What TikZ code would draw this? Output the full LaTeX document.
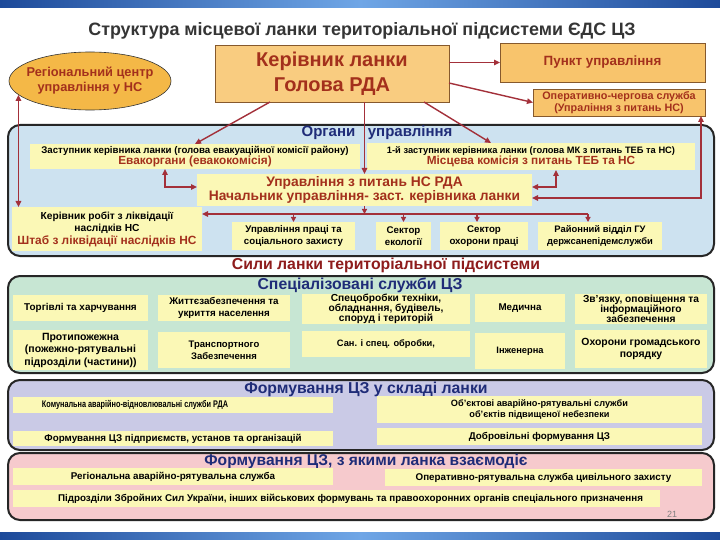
\documentclass[tikz,border=0pt]{standalone}
\usepackage{fontspec}
\usepackage{graphicx}
\setmainfont{Liberation Sans}
\usetikzlibrary{arrows.meta,shapes.geometric,calc}
\newcommand\fsz[2]{\fontsize{#1}{#2}\selectfont}
\definecolor{barblue}{HTML}{1D4A9A}
\definecolor{barlight}{HTML}{6FA6E6}
\definecolor{panelblue}{HTML}{CDE2F0}
\definecolor{panelgreen}{HTML}{C7E6D3}
\definecolor{panelviolet}{HTML}{CACAE6}
\definecolor{panelpink}{HTML}{F6CACD}
\definecolor{paleyellow}{HTML}{FBF8B6}
\definecolor{boxorange}{HTML}{F8C46C}
\definecolor{kerorange}{HTML}{F9CC80}
\definecolor{ellorange}{HTML}{F4B847}
\definecolor{darkred}{HTML}{A3301C}
\definecolor{arrowred}{HTML}{A3303A}
\definecolor{titlegray}{HTML}{353535}
\definecolor{navy}{HTML}{1F2C78}
\definecolor{silred}{HTML}{8E1C1C}
\begin{document}
\begin{tikzpicture}[x=1pt,y=-1pt,
  panel/.style={draw=black!85, line width=2pt, rounded corners=12pt},
  ybox/.style={fill=paleyellow, inner sep=0.5pt, outer sep=0pt, align=center,
    font=\fsz{9.5}{11}\bfseries},
  obox/.style={draw=brown!70!black, line width=0.5pt, inner sep=1pt, outer sep=0pt, align=center},
  ptitle/.style={text=navy, font=\fsz{15.8}{18}\bfseries, inner sep=0pt},
  arr/.style={draw=arrowred, line width=1.4pt, -{Triangle[length=6pt,width=5.5pt]}},
  arr2/.style={draw=arrowred, line width=1.4pt, {Triangle[length=6pt,width=5.5pt]}-{Triangle[length=6pt,width=5.5pt]}},
  sarr/.style={draw=arrowred, line width=1.4pt, -{Triangle[length=5pt,width=5pt]}},
]
\useasboundingbox (0,0) rectangle (720,540);
\fill[white] (0,0) rectangle (720,540);
% slide bars
\shade[left color=barblue, right color=barblue, middle color=barlight] (0,0) rectangle (720,8);
\shade[left color=barblue, right color=barblue, middle color=barlight] (0,532) rectangle (720,540);

% title
\node[text=titlegray, font=\fsz{17.9}{20}\bfseries, inner sep=0pt] (title) at (362,31)
  {Структура місцевої ланки територіальної підсистеми ЄДС ЦЗ};

% top level
\node[ellipse, draw=black!80, line width=0.6pt, fill=ellorange, minimum width=162pt, minimum height=58pt,
  inner xsep=-20pt, inner ysep=-6pt, align=center, text=darkred, font=\fsz{12.8}{15}\bfseries] (ell) at (90,81)
  {Регіональний центр\\управління у НС};
\node[obox, fill=kerorange, minimum width=234pt, minimum height=57pt, text=darkred,
  font=\fsz{20}{25}\bfseries] (ker) at (332,73.5) {Керівник ланки\\Голова РДА};
\node[obox, fill=boxorange, minimum width=205pt, minimum height=39pt, text=darkred,
  font=\fsz{13.4}{15}\bfseries] (pu) at (602.5,62.5) {Пункт управління};
\node[obox, fill=boxorange, minimum width=172pt, minimum height=27pt, text=darkred,
  font=\fsz{10.8}{12.5}\bfseries, inner sep=0pt] (op) at (619,102.5)
  {Оперативно-чергова служба\\(Упраління з питань НС)};

% Органи управління panel
\draw[panel, fill=panelblue] (8,125) rectangle (714,256);
\node[ptitle, font=\fsz{15}{17}\bfseries] (orgt) at (377,133) {Органи~~~управління};
\node[ybox, minimum width=330pt, minimum height=25pt] (zast) at (195,156.5)
  {{\fsz{9.7}{11.5}Заступник керівника ланки (голова евакуаційної комісії району)}\\
   {\color{darkred}\fsz{11.8}{12}Евакоргани (евакокомісія)}};
\node[ybox, minimum width=328pt, minimum height=27pt] (pz) at (531,156.5)
  {{\fsz{9.3}{11.5}1-й заступник керівника ланки (голова МК з питань ТЕБ та НС)}\\
   {\color{darkred}\fsz{11.8}{12}Місцева комісія з питань ТЕБ та НС}};
\node[ybox, minimum width=335pt, minimum height=32pt, text=darkred,
  font=\fsz{13.8}{14.5}\bfseries] (upr) at (364.5,190)
  {Управління з питань НС РДА\\Начальник управління- заст. керівника ланки};
\node[ybox, minimum width=190pt, minimum height=44pt, font=\fsz{10.2}{12.5}\bfseries] (sht) at (107,229)
  {Керівник робіт з ліквідації\\наслідків НС\\
   {\color{darkred}\fsz{11.9}{12}Штаб з ліквідації наслідків НС}};
\node[ybox, minimum width=123pt, minimum height=28pt, font=\fsz{9.7}{12}\bfseries] (upp) at (293.5,236) {Управління праці та\\соціального захисту};
\node[ybox, minimum width=55pt, minimum height=28pt, font=\fsz{9.7}{12}\bfseries] (se) at (403.5,236) {Сектор\\екології};
\node[ybox, minimum width=88pt, minimum height=28pt, font=\fsz{9.7}{12}\bfseries] (so) at (484,236) {Сектор\\охорони праці};
\node[ybox, minimum width=124pt, minimum height=28pt, font=\fsz{9.4}{12}\bfseries] (rv) at (600,236) {Районний відділ ГУ\\держсанепідемслужби};

% connectors top
\draw[arr] (pu.west -| ker.east) -- (pu.west);
\draw[arr] ([yshift=-9.5pt]ker.east) -- (op.west);
\draw[arr] ([xshift=-62pt]ker.south) -- (zast.north);
\draw[arr] ([xshift=92pt]ker.south) -- ([xshift=-40pt]pz.north);
\draw[arr] (upr.north |- ker.south) -- (upr.north);
\draw[arr2] (ell.191) -- (ell.191 |- sht.north);
\draw[arr2] ([yshift=3pt]upr.west) -| ([xshift=-30pt]zast.south);
\draw[arr2] ([yshift=3pt]upr.east) -| ([xshift=25pt]pz.south);
\draw[arr2] ([yshift=-8pt]upr.east) -| ([xshift=-4pt]op.south east);
% bus
\coordinate (busR) at (588,214);
\coordinate (busM) at (upr.south |- busR);
\draw[arrowred, line width=1.4pt] (busM) -- (busR);
\draw[arr] (busM) -- (busM -| sht.east);
\draw[sarr] (upr.south) -- (busM);
\draw[sarr] (busR -| upp.north) -- (upp.north);
\draw[sarr] (busR -| se.north) -- (se.north);
\draw[sarr] (busR -| so.north) ++(-7,0) coordinate (soT) -- (soT |- so.north);
\draw[sarr] (busR) -- (busR |- rv.north);

% Сили
\node[text=silred, font=\fsz{15.8}{18}\bfseries, inner sep=0pt] (sil) at (386,265)
  {Сили ланки територіальної підсистеми};

% Спеціалізовані служби
\draw[panel, fill=panelgreen] (8,276) rectangle (714,373);
\node[ptitle] (spt) at (360,285.5) {Спеціалізовані служби ЦЗ};
\node[ybox, minimum width=135pt, minimum height=26pt, font=\fsz{9.9}{11}\bfseries] (g11) at (80.5,308) {Торгівлі та харчування};
\node[ybox, minimum width=132pt, minimum height=26pt, font=\fsz{9.8}{11.5}\bfseries] (g12) at (224,308) {Життєзабезпечення та\\укриття населення};
\node[ybox, minimum width=168pt, minimum height=30pt, font=\fsz{10.2}{9.6}\bfseries] (g13) at (386,309) {Спецобробки техніки,\\обладнання, будівель,\\споруд і територій};
\node[ybox, minimum width=90pt, minimum height=28pt, font=\fsz{9.8}{11}\bfseries] (g14) at (520,308) {Медична};
\node[ybox, minimum width=132pt, minimum height=30pt, font=\fsz{10.2}{10}\bfseries] (g15) at (641,309) {Зв'язку, оповіщення та\\інформаційного\\забезпечення};
\node[ybox, minimum width=135pt, minimum height=40pt, font=\fsz{10.5}{12.5}\bfseries] (g21) at (80.5,350) {Протипожежна\\(пожежно-рятувальні\\підрозділи (частини))};
\node[ybox, minimum width=132pt, minimum height=36pt, font=\fsz{9.5}{12}\bfseries] (g22) at (224,350) {Транспортного\\Забезпечення};
\node[ybox, minimum width=168pt, minimum height=26pt, font=\fsz{9.3}{11}\bfseries] (g23) at (386,344) {Сан. і спец. обробки,};
\node[ybox, minimum width=90pt, minimum height=36pt, font=\fsz{9.3}{11}\bfseries] (g24) at (520,351) {Інженерна};
\node[ybox, minimum width=132pt, minimum height=38pt, font=\fsz{10.4}{12}\bfseries] (g25) at (641,349) {Охорони громадського\\порядку};

% Формування ЦЗ у складі ланки
\draw[panel, fill=panelviolet] (8,380) rectangle (714,450);
\node[ptitle] (ft1) at (366,389) {Формування ЦЗ у складі ланки};
\node[ybox, minimum width=320pt, minimum height=16pt, font=\fsz{9.6}{11}\bfseries] (p1) at (173,405)
  {\scalebox{0.76}[1]{Комунальна аварійно-відновлювальні служби РДА}\hspace*{76pt}};
\node[ybox, minimum width=320pt, minimum height=15pt, font=\fsz{9.8}{11}\bfseries] (p2) at (173,438.5) {Формування ЦЗ підприємств, установ та організацій};
\node[ybox, minimum width=325pt, minimum height=27pt, font=\fsz{9.2}{11.5}\bfseries] (p3) at (539.5,409.5) {Об'єктові аварійно-рятувальні служби\\об'єктів підвищеної небезпеки};
\node[ybox, minimum width=325pt, minimum height=17pt, font=\fsz{9.8}{11}\bfseries] (p4) at (539.5,436.5) {Добровільні формування ЦЗ};

% Формування ЦЗ, з якими ланка взаємодіє
\draw[panel, fill=panelpink] (8,453) rectangle (714,520);
\node[ptitle, font=\fsz{15.6}{18}\bfseries] (ft2) at (366,461) {Формування ЦЗ, з якими ланка взаємодіє};
\node[ybox, minimum width=320pt, minimum height=17pt, font=\fsz{9.8}{11}\bfseries] (k1) at (173,476.5) {Регіональна аварійно-рятувальна служба};
\node[ybox, minimum width=317pt, minimum height=17pt, font=\fsz{9.8}{11}\bfseries] (k2) at (543.5,477.5) {Оперативно-рятувальна служба цивільного захисту};
\node[ybox, minimum width=647pt, minimum height=17pt, font=\fsz{9.8}{11}\bfseries] (k3) at (336.5,498.5)
  {\hspace*{28pt}Підрозділи Збройних Сил України, інших військових формувань та правоохоронних органів спеціального призначення};
\node[text=gray, font=\fsz{9}{10}, inner sep=0pt] (pg) at (672,514) {21};
\end{tikzpicture}
\end{document}
